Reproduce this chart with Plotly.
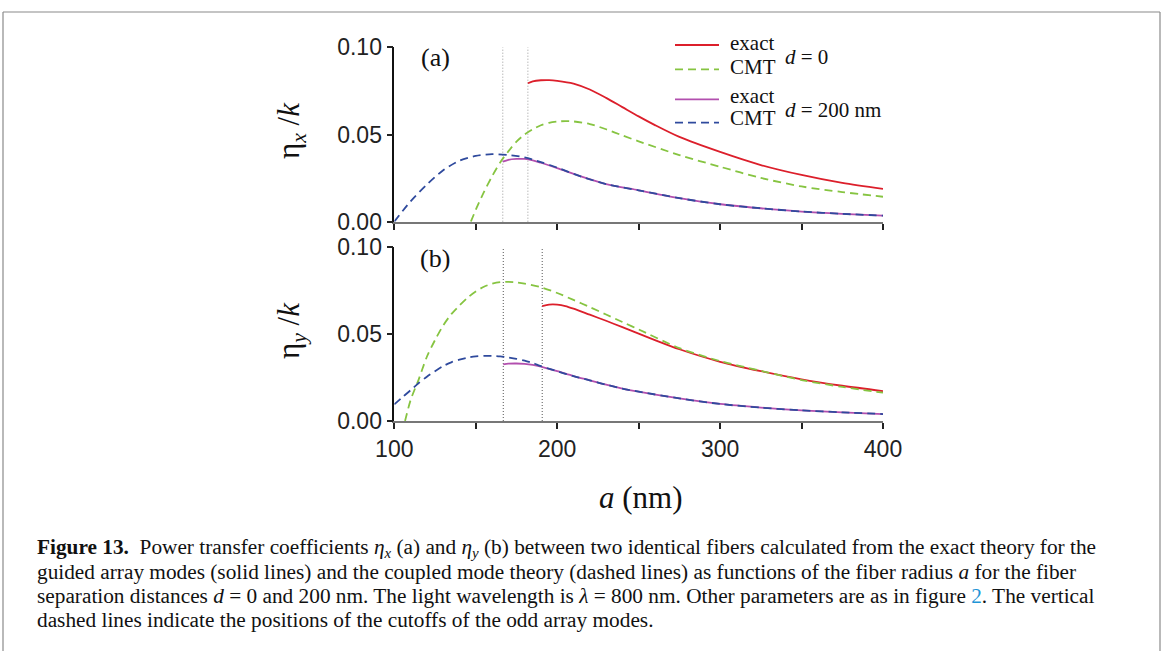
import plotly.graph_objects as go

# ---------------- data: fiber radius a (nm) and eta/k ----------------
# panel (a): eta_x / k
a_exact0_x = [182, 185, 190, 195, 200, 210, 220, 230, 240, 250, 260, 275, 300, 325, 350, 375, 400]
exact0_x = [0.0794, 0.0805, 0.0811, 0.0812, 0.0808, 0.0792, 0.0758, 0.0710, 0.0657, 0.0604,
            0.0554, 0.0486, 0.0400, 0.0325, 0.0268, 0.0222, 0.0188]

a_cmt0_x = [147, 150, 155, 160, 165, 170, 175, 180, 185, 190, 195, 200, 205, 210, 220, 230,
            240, 250, 275, 300, 325, 350, 375, 400]
cmt0_x = [0.0, 0.0068, 0.0170, 0.0260, 0.0340, 0.0403, 0.0459, 0.0500, 0.0530, 0.0553, 0.0567,
          0.0574, 0.0577, 0.0575, 0.0560, 0.0530, 0.0495, 0.0461, 0.0382, 0.0315, 0.0251,
          0.0202, 0.0170, 0.0143]

a_exact200_x = [166.6, 170, 175, 180, 185, 190, 200, 215, 230, 250, 275, 300, 325, 350, 375, 400]
exact200_x = [0.0344, 0.0355, 0.0360, 0.0360, 0.0352, 0.0338, 0.0307, 0.0258, 0.0216, 0.0180,
              0.0135, 0.0100, 0.0077, 0.0058, 0.0045, 0.0035]

a_cmt200_x = [100, 110, 120, 130, 140, 150, 160, 170, 180, 190, 200, 215, 230, 250, 275, 300,
              325, 350, 375, 400]
cmt200_x = [0.0, 0.0117, 0.0213, 0.0295, 0.0350, 0.0377, 0.0387, 0.0382, 0.0369, 0.0342,
            0.0310, 0.0258, 0.0216, 0.0180, 0.0135, 0.0100, 0.0077, 0.0058, 0.0045, 0.0035]

# panel (b): eta_y / k
a_exact0_y = [190.8, 195, 200, 205, 210, 220, 230, 240, 250, 260, 275, 300, 325, 350, 375, 400]
exact0_y = [0.0661, 0.0670, 0.0670, 0.0662, 0.0647, 0.0612, 0.0577, 0.0540, 0.0503, 0.0466,
            0.0413, 0.0341, 0.0287, 0.0240, 0.0203, 0.0172]

a_cmt0_y = [106.6, 110, 115, 120, 125, 130, 135, 140, 145, 150, 155, 160, 165, 170, 175, 180,
            190, 200, 210, 220, 230, 240, 250, 275, 300, 325, 350, 375, 400]
cmt0_y = [0.0, 0.0120, 0.0240, 0.0370, 0.0466, 0.0550, 0.0615, 0.0665, 0.0710, 0.0745, 0.0773,
          0.0790, 0.0799, 0.0801, 0.0798, 0.0791, 0.0770, 0.0737, 0.0697, 0.0656, 0.0613,
          0.0570, 0.0527, 0.0420, 0.0345, 0.0289, 0.0236, 0.0196, 0.0163]

a_exact200_y = [166.9, 170, 175, 180, 185, 190, 200, 210, 220, 230, 240, 250, 275, 300, 325,
                350, 375, 400]
exact200_y = [0.0326, 0.0330, 0.0331, 0.0329, 0.0323, 0.0313, 0.0287, 0.0259, 0.0234, 0.0209,
              0.0187, 0.0169, 0.0130, 0.0098, 0.0077, 0.0061, 0.0050, 0.0040]

a_cmt200_y = [100, 105, 110, 115, 120, 125, 130, 135, 140, 145, 150, 155, 160, 165, 170, 175,
              180, 185, 190, 200, 210, 220, 230, 240, 250, 275, 300, 325, 350, 375, 400]
cmt200_y = [0.0096, 0.0137, 0.0177, 0.0219, 0.0255, 0.0287, 0.0316, 0.0338, 0.0353, 0.0365,
            0.0372, 0.0375, 0.0375, 0.0372, 0.0366, 0.0358, 0.0347, 0.0333, 0.0316, 0.0286,
            0.0258, 0.0234, 0.0209, 0.0187, 0.0169, 0.0130, 0.0098, 0.0077, 0.0061, 0.0050,
            0.0040]

# cutoffs of the odd array modes (nm)
cutoffs_x = [166.6, 182]
cutoffs_y = [166.9, 190.8]

x_ticks = [100, 150, 200, 250, 300, 350, 400]
x_ticktext = ["100", "", "200", "", "300", "", "400"]
y_ticks = [0.0, 0.05, 0.10]
y_ticktext = ["0.00", "0.05", "0.10"]

# ---------------- styling ----------------
W, H = 1165, 651
RED, GREEN, PURPLE, BLUE = "#dc1f2b", "#86c441", "#b24fae", "#2f4a9d"
DASH = "8px,5px"
SERIF = "Liberation Serif, Times New Roman, serif"
SANS = "Liberation Sans, Arial, sans-serif"


def px(x):
    return x / W


def py(y):
    return 1 - y / H


fig = go.Figure()

panels = [
    ("x", "y", a_exact0_x, exact0_x, a_cmt0_x, cmt0_x, a_exact200_x, exact200_x, a_cmt200_x, cmt200_x),
    ("x2", "y2", a_exact0_y, exact0_y, a_cmt0_y, cmt0_y, a_exact200_y, exact200_y, a_cmt200_y, cmt200_y),
]
for xa, ya, ae0, e0, ac0, c0, ae2, e2, ac2, c2 in panels:
    spl = dict(shape="spline", smoothing=0.8)
    fig.add_trace(go.Scatter(x=ae0, y=e0, xaxis=xa, yaxis=ya, mode="lines",
                             line=dict(color=RED, width=1.8, **spl), showlegend=False))
    fig.add_trace(go.Scatter(x=ac0, y=c0, xaxis=xa, yaxis=ya, mode="lines",
                             line=dict(color=GREEN, width=1.8, dash=DASH, **spl), showlegend=False))
    fig.add_trace(go.Scatter(x=ae2, y=e2, xaxis=xa, yaxis=ya, mode="lines",
                             line=dict(color=PURPLE, width=1.8, **spl), showlegend=False))
    fig.add_trace(go.Scatter(x=ac2, y=c2, xaxis=xa, yaxis=ya, mode="lines",
                             line=dict(color=BLUE, width=1.8, dash=DASH, **spl), showlegend=False))

xdom = [px(394.3), px(883)]
axis_common = dict(showgrid=False, zeroline=False, showline=True, ticks="outside",
                   ticklen=6, tickwidth=1.5, tickcolor="#222", mirror=False, automargin=False)
xcommon = dict(axis_common, range=[100, 400], domain=xdom, tickvals=x_ticks,
               ticktext=x_ticktext, linecolor="#777777", linewidth=2,
               tickfont=dict(family=SANS, size=23, color="#222"))
ycommon = dict(axis_common, range=[0, 0.1], tickvals=y_ticks, ticktext=y_ticktext,
               linecolor="#111111", linewidth=1.5,
               tickfont=dict(family=SANS, size=23, color="#222"))

fig.update_layout(
    width=W, height=H, autosize=False,
    margin=dict(l=0, r=0, t=0, b=0, pad=0, autoexpand=False),
    paper_bgcolor="white", plot_bgcolor="white", showlegend=False,
    xaxis=dict(xcommon, anchor="y", showticklabels=False),
    yaxis=dict(ycommon, anchor="x", domain=[py(221.7), py(47.3)]),
    xaxis2=dict(xcommon, anchor="y2"),
    yaxis2=dict(ycommon, anchor="x2", domain=[py(421), py(247.3)]),
)

shapes = []
# vertical dotted lines at the cutoffs
for c in cutoffs_x:
    shapes.append(dict(type="line", xref="x", yref="y domain", x0=c, x1=c, y0=0, y1=1,
                       line=dict(color="#9a9a9a", width=1, dash="1px,2px"), layer="below"))
for c in cutoffs_y:
    shapes.append(dict(type="line", xref="x2", yref="y2 domain", x0=c, x1=c, y0=0, y1=1,
                       line=dict(color="#555555", width=1, dash="1px,2px"), layer="below"))

# legend samples
legend_rows = [(45.0, RED, "solid"), (69.3, GREEN, DASH), (99.3, PURPLE, "solid"), (122.7, BLUE, DASH)]
for yy, col, ds in legend_rows:
    shapes.append(dict(type="line", xref="paper", yref="paper", x0=px(675), x1=px(719),
                       y0=py(yy), y1=py(yy), line=dict(color=col, width=1.8, dash=ds)))

# page frame
frame = dict(color="#8a8a8a", width=1.2)
shapes += [
    dict(type="line", xref="paper", yref="paper", x0=px(3), x1=px(1160), y0=py(12), y1=py(12), line=frame),
    dict(type="line", xref="paper", yref="paper", x0=px(3), x1=px(3), y0=py(12), y1=0, line=frame),
    dict(type="line", xref="paper", yref="paper", x0=px(1160), x1=px(1160), y0=py(12), y1=0, line=frame),
]
fig.update_layout(shapes=shapes)

ann = []


def text(x, y, s, size, family=SERIF, xanchor="left", angle=0, color="#111"):
    ann.append(dict(x=px(x), y=py(y), xref="paper", yref="paper", text=s, showarrow=False,
                    xanchor=xanchor, yanchor="middle", textangle=angle,
                    font=dict(family=family, size=size, color=color)))


# legend text
text(728, 43.3, "exact", 21)
text(728, 67.0, "CMT", 21)
text(728, 96.3, "exact", 21)
text(728, 118.5, "CMT", 21)
text(783, 56.7, "<i>d</i> = 0", 21)
text(783, 110.0, "<i>d</i> = 200 nm", 21)

# panel labels
text(435, 58, "(a)", 26, xanchor="center")
text(435, 258, "(b)", 26, xanchor="center")

# axis titles
text(291, 131, "η<sub><i>x</i></sub> /<i>k</i>", 31, xanchor="center", angle=-90)
text(291, 331, "η<sub><i>y</i></sub> /<i>k</i>", 31, xanchor="center", angle=-90)
text(641, 497, "<i>a</i> (nm)", 31, xanchor="center")

# caption
cap = [
    "<b>Figure 13.</b>  Power transfer coefficients <i>η</i><sub><i>x</i></sub> (a) and <i>η</i><sub><i>y</i></sub> (b) "
    "between two identical fibers calculated from the exact theory for the",
    "guided array modes (solid lines) and the coupled mode theory (dashed lines) as functions of the fiber radius "
    "<i>a</i> for the fiber",
    "separation distances <i>d</i> = 0 and 200 nm. The light wavelength is <i>λ</i> = 800 nm. Other parameters are "
    "as in figure <span style='color:#1f95d6'>2</span>. The vertical",
    "dashed lines indicate the positions of the cutoffs of the odd array modes.",
]
for i, line in enumerate(cap):
    text(35, 548 + 24 * i, line, 21.3)

fig.update_layout(annotations=ann)

fig.write_html("out.html")
